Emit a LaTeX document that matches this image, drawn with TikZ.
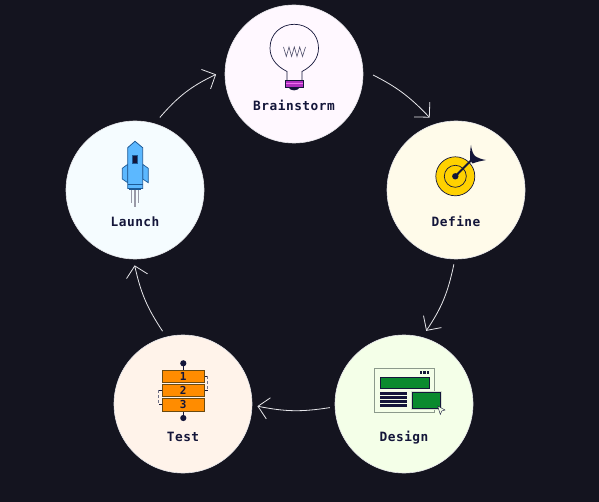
\documentclass[tikz,border=0pt]{standalone}
\usepackage{fontspec}
\setmonofont[LetterSpace=4]{DejaVu Sans Mono}
\usetikzlibrary{arrows.meta}
\definecolor{bgc}{HTML}{14141F}
\definecolor{ink}{HTML}{14163A}
\definecolor{lineW}{HTML}{E6E6EA}
\definecolor{fillBrain}{HTML}{FFF8FF}
\definecolor{fillDefine}{HTML}{FFFBEA}
\definecolor{fillDesign}{HTML}{F4FFE8}
\definecolor{fillTest}{HTML}{FFF3EA}
\definecolor{fillLaunch}{HTML}{F5FCFF}
\definecolor{magentaB}{HTML}{B030C0}
\definecolor{pinkB}{HTML}{F070F0}
\definecolor{gold}{HTML}{FFD100}
\definecolor{greenD}{HTML}{0A8A2E}
\definecolor{grayD}{HTML}{8C9A8C}
\definecolor{orangeT}{HTML}{FF8C00}
\definecolor{brownT}{HTML}{6B4A10}
\definecolor{blueL}{HTML}{5CB8FF}
\definecolor{blueD}{HTML}{1E5A96}
\definecolor{flame}{HTML}{9A9AA8}
\tikzset{
  stage/.style={circle,draw=lineW,line width=.6pt,minimum size=138pt,inner sep=0pt,outer sep=8pt},
  lab/.style={text=ink,font=\ttfamily\bfseries\fontsize{12.8}{15}\selectfont,inner sep=0pt,anchor=base},
  flow/.style={draw=lineW,line width=.8pt,-{Straight Barb[length=10.6pt,width=21.5pt,line width=.8pt]}},
  num/.style={text=ink,font=\ttfamily\bfseries\fontsize{11}{12}\selectfont,inner sep=0pt},
  icon/.style={draw=ink,line width=.7pt},
}
\begin{document}
\begin{tikzpicture}[x=1pt,y=-1pt]
\useasboundingbox[fill=bgc] (0,0) rectangle (599,502);
% stages
\node[stage,fill=fillBrain] (brain) at (294,74) {};
\node[stage,fill=fillDefine] (define) at (456,190) {};
\node[stage,fill=fillDesign] (design) at (404,404) {};
\node[stage,fill=fillTest] (test) at (183,404) {};
\node[stage,fill=fillLaunch] (launch) at (135,190) {};
% connectors
\draw[flow,shorten <=2.3pt] (brain.0) to[bend left=10] (define.110);
\draw[flow,shorten <=-2.7pt,shorten >=-.6pt] (define.-92) to[bend left=11] (design.73.5);
\draw[flow,shorten <=-2.8pt,shorten >=-2.6pt] (design.183) to[bend left=10] (test.-2);
\draw[flow,shorten <=-1.4pt,shorten >=-1.7pt] (test.106) to[bend left=10.5] (launch.-90);
\draw[flow,shorten <=-.4pt,shorten >=1pt] (launch.71.7) to[bend left=12] (brain.180);
% labels
\node[lab] (lbrain) at (294,111) {Brainstorm};
\node[lab] (ldefine) at (456,227) {Define};
\node[lab] (ldesign) at (404,441) {Design};
\node[lab] (ltest) at (183,441) {Test};
\node[lab] (llaunch) at (135,227) {Launch};
% bulb
\draw[icon,fill=fillBrain] (287,80) -- (287,71.5) .. controls (276,66) and (270,58) .. (270,48)
  .. controls (270,34) and (281,24.3) .. (294.3,24.3) .. controls (307.5,24.3) and (318.5,34) .. (318.5,48)
  .. controls (318.5,58) and (312.5,66) .. (302,71.5) -- (302,80);
\draw[ink!75,line width=.6pt] (283.5,47) -- (286.3,56.5) -- (289,47) -- (291.6,56.5) -- (294.3,47) -- (297,56.5) -- (299.7,47) -- (302.5,56.5) -- (305.5,47);
\fill[ink] (288.2,87) .. controls (290,91.5) and (298,91.5) .. (300,87) -- cycle;
\draw[ink,fill=magentaB,line width=.6pt] (285.7,80) rectangle (303,87.3);
\draw[pinkB,line width=.9pt] (286,83) -- (302.7,83);
% target
\draw[icon,fill=gold] (455.3,176.3) circle (19.5);
\draw[icon,fill=none] (455.3,176.3) circle (11);
\fill[ink] (455.3,176.3) circle (3.2);
\draw[ink,line width=2pt] (455.3,176.3) -- (471,160.5);
\fill[ink] (471,145) .. controls (471.5,150) and (473,154) .. (475,156) .. controls (478,158) and (482,159.5) .. (486,160)
  .. controls (481,161) and (476,162) .. (472.5,163.5) -- (470,160) .. controls (470,155) and (470,150) .. (471,145) -- cycle;
% design window
\draw[grayD,line width=1.3pt,fill=fillDesign] (374.3,368.3) rectangle (434.3,412.3);
\draw[ink,line width=.5pt,fill=greenD] (380,377) rectangle (429,388.7);
\foreach \yy in {392.3,396.3,400.3,404.3}{\fill[ink] (380,\yy) rectangle (407.3,\yy+2.4);}
\foreach \xx in {420.2,423.4,426.6}{\fill[ink] (\xx,371.3) rectangle (\xx+2.2,373.8);}
\draw[fillDesign!70!grayD,line width=1pt,fill=greenD] (411.7,391.7) rectangle (441,409.3);
\draw[ink,line width=.5pt] (412.4,392.4) rectangle (440.3,408.6);
\draw[ink,line width=.4pt,fill=fillDesign] (437.7,406) -- (445,410) -- (441.8,411) -- (440.3,414.5) -- cycle;
% test stack
\draw[ink,line width=.8pt] (183.3,363.3) -- (183.3,370.3) (183.3,411) -- (183.3,418);
\fill[ink] (183.3,363.3) circle (3.1) (183.3,418) circle (3.1);
\draw[brownT,line width=1pt,fill=orangeT] (162.3,370.3) rectangle (204.7,382.7);
\draw[brownT,line width=1pt,fill=orangeT] (162.3,384.7) rectangle (204.7,396.7);
\draw[brownT,line width=1pt,fill=orangeT] (162.3,398.7) rectangle (204.7,411);
\node[num] (n1) at (183.3,376.7) {1};
\node[num] (n2) at (183.3,390.7) {2};
\node[num] (n3) at (183.3,404.9) {3};
\draw[ink,line width=.5pt] (204.7,376.3) -- (207.5,376.3) (204.7,390.3) -- (207.5,390.3)
  (162.3,390.3) -- (158.7,390.3) (162.3,404.7) -- (158.7,404.7);
\draw[ink!60,line width=.5pt,dash pattern=on 3pt off 2pt] (207.5,376.3) -- (207.5,390.3) (158.7,390.3) -- (158.7,404.7);
% rocket
\draw[flame,line width=1.4pt] (131.7,190) -- (131.7,202.7) (135,190) -- (135,207.3) (138.3,190) -- (138.3,202.7);
\draw[blueD,line width=.7pt,fill=blueL] (122.3,168.3) -- (127.7,164.3) -- (127.7,182.7) -- (122.3,179) -- cycle;
\draw[blueD,line width=.7pt,fill=blueL] (148.3,168.3) -- (142.7,164.3) -- (142.7,179) -- (148.3,182.7) -- cycle;
\draw[blueD,line width=.8pt,fill=blueL] (127.7,147.7) -- (135,141.3) -- (142.7,147.7) -- (142.7,188.5) -- (127.7,188.5) -- cycle;
\draw[blueD,line width=1pt] (127.7,184.3) -- (142.7,184.3);
\fill[blueD] (129,188.5) rectangle (141,190.3);
\draw[blueD,line width=.5pt,fill=ink] (132.3,155) rectangle (137.7,163.3);
\end{tikzpicture}
\end{document}
